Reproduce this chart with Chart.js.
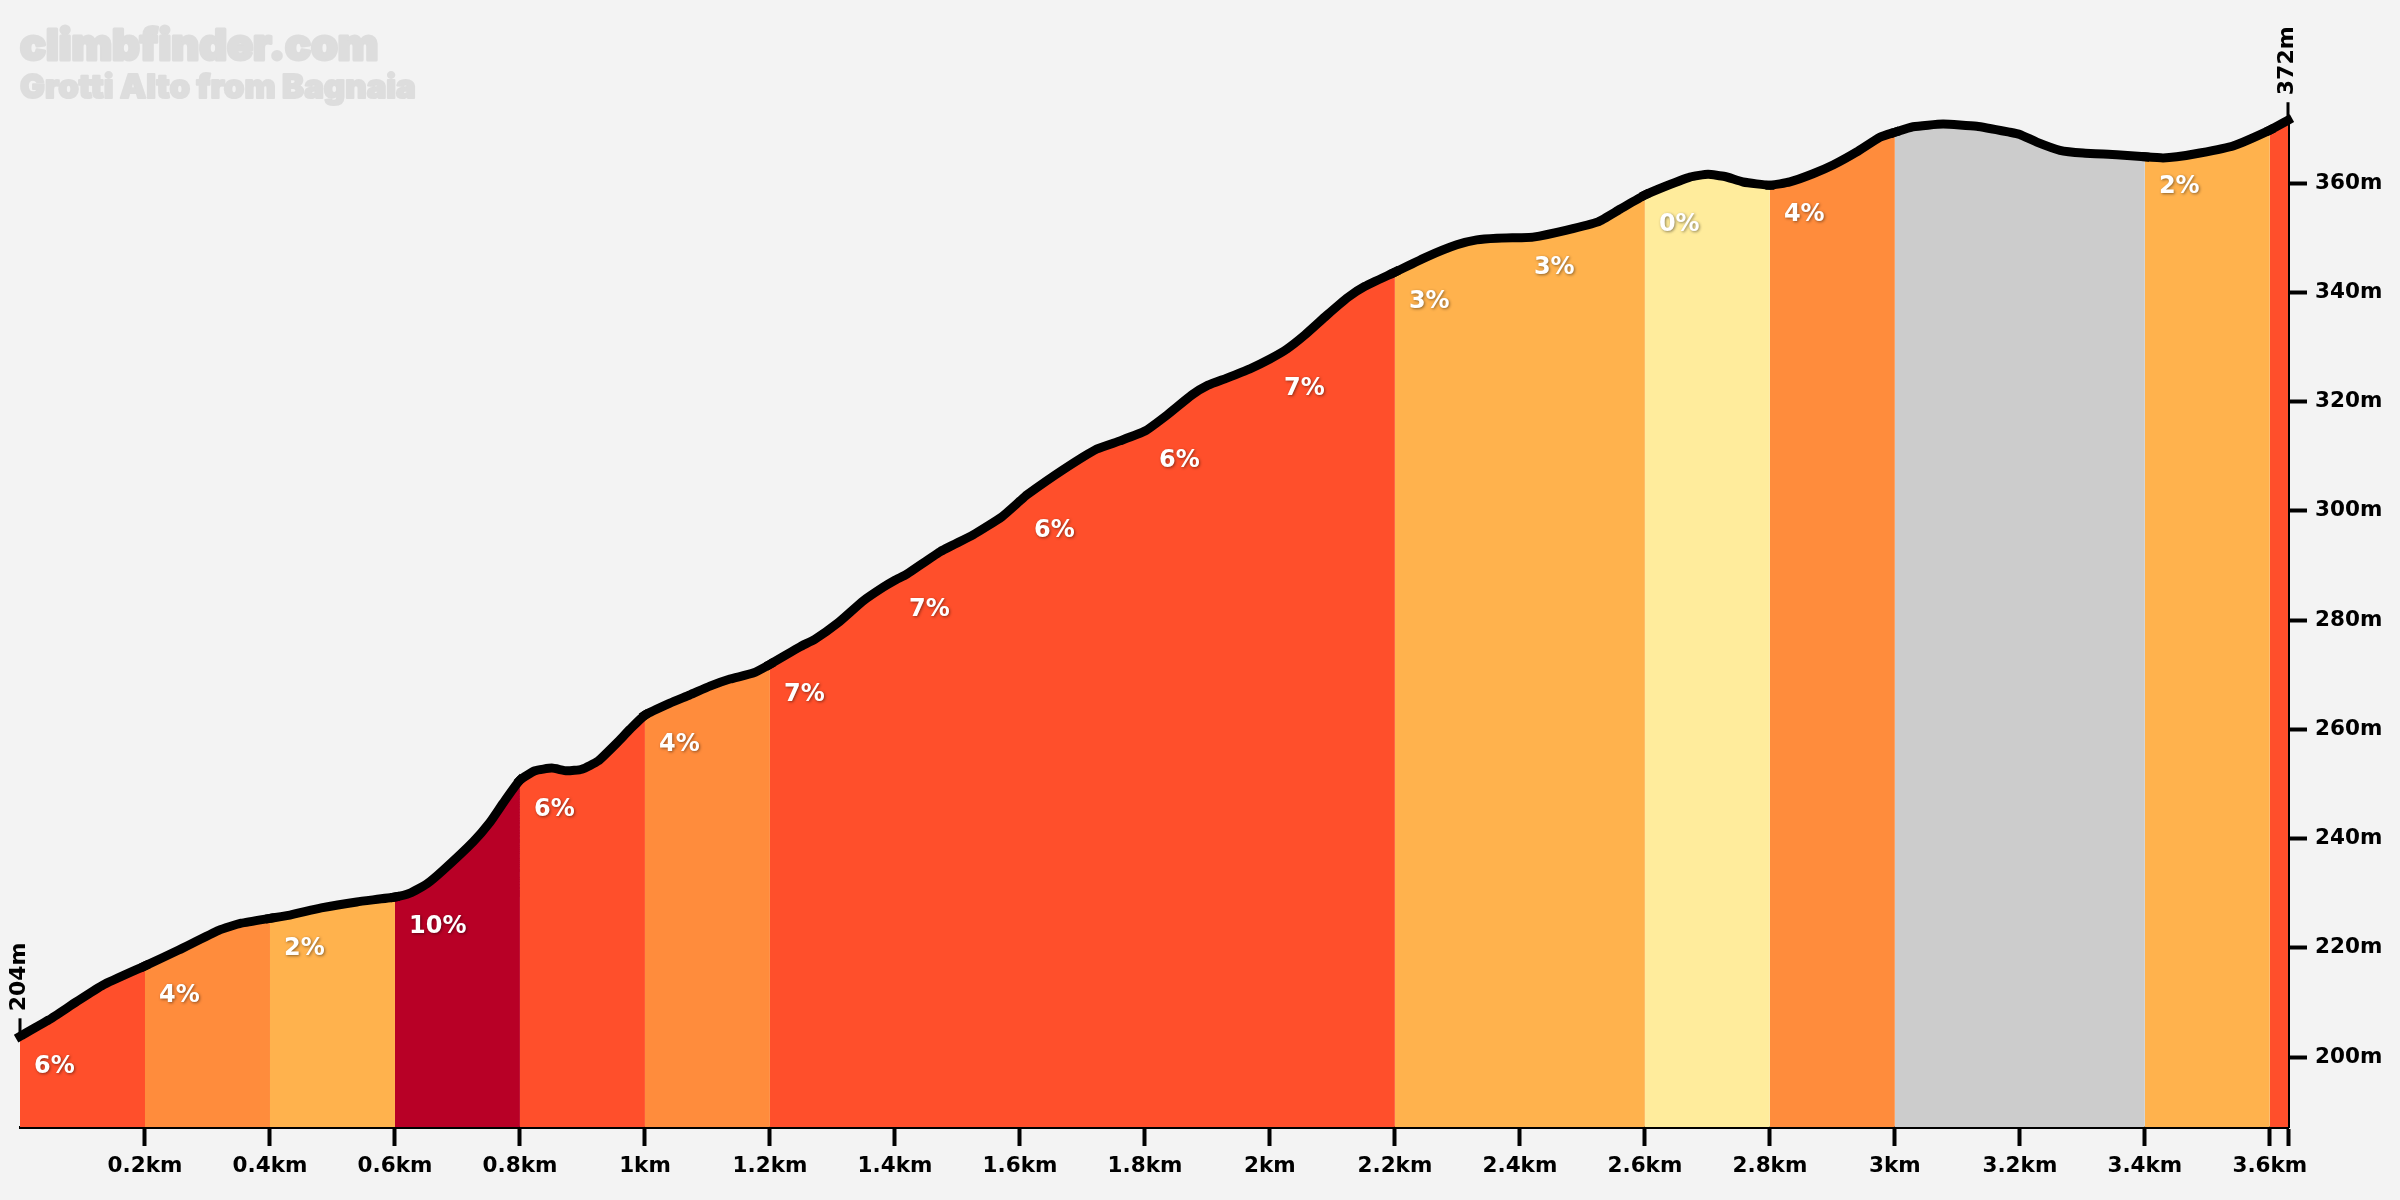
<!DOCTYPE html>
<html>
<head>
<meta charset="utf-8">
<title>Grotti Alto from Bagnaia</title>
<script src="https://cdn.jsdelivr.net/npm/chart.js@4"></script>
<style>
  html, body { margin: 0; padding: 0; background: #f3f3f3; }
  canvas { display: block; }
</style>
</head>
<body>
<canvas id="profileChart" width="2400" height="1200"></canvas>
<script>
var siteName = 'climbfinder.com';
var climbName = 'Grotti Alto from Bagnaia';

// distance (km) and elevation (m)
var distances = [0, .046, .09, .133, .2, .254, .318, .354, .4, .432, .482, .539, .6, .624, .651, .677, .725, .752, .773, .8,
  .824, .851, .875, .899, .925, .955, .976, 1, 1.04, 1.072, 1.104, 1.136, 1.173, 1.2, 1.248, 1.272, 1.309, 1.349, 1.381, 1.4,
  1.419, 1.472, 1.525, 1.571, 1.6, 1.611, 1.669, 1.723, 1.76, 1.8, 1.835, 1.875, 1.901, 1.931, 1.968, 2, 2.027, 2.056, 2.091, 2.125,
  2.152, 2.2, 2.251, 2.299, 2.331, 2.363, 2.4, 2.421, 2.475, 2.525, 2.56, 2.6, 2.635, 2.672, 2.701, 2.728, 2.757, 2.8, 2.832, 2.869,
  2.901, 2.939, 2.976, 3, 3.029, 3.077, 3.131, 3.184, 3.2, 3.227, 3.264, 3.301, 3.355, 3.4, 3.429, 3.451, 3.488, 3.541, 3.6, 3.629];
var elevations = [203.8, 206.8, 210.1, 213.2, 216.7, 219.6, 223.2, 224.5, 225.4, 226, 227.3, 228.4, 229.3, 230, 231.7, 234.2, 239.4, 243, 246.5, 250.7,
  252.4, 252.9, 252.4, 252.7, 254.2, 257.5, 260, 262.6, 264.8, 266.3, 267.9, 269.2, 270.3, 271.9, 275.1, 276.5, 279.5, 283.5, 286, 287.3,
  288.4, 292.5, 295.6, 298.9, 301.8, 302.9, 307.5, 311.3, 312.8, 314.6, 317.5, 321.2, 323, 324.3, 326, 327.8, 329.6, 332.2, 335.8, 339.1,
  341.1, 343.7, 346.5, 348.7, 349.6, 349.9, 350, 350.1, 351.4, 352.9, 355.2, 357.8, 359.5, 361.1, 361.6, 361.2, 360.2, 359.6, 360.2, 361.7,
  363.3, 365.7, 368.4, 369.3, 370.3, 370.8, 370.4, 369.3, 368.9, 367.5, 366, 365.5, 365.2, 364.8, 364.6, 364.8, 365.5, 366.8, 369.7, 371.5];

// gradient bins along the climb, null is the flat/downhill grey part
var binStarts = [0, .2, .4, .6, .8, 1, 1.2, 1.4, 1.6, 1.8, 2, 2.2, 2.4, 2.6, 2.8, 3, 3.2, 3.4, 3.6];
var binGrades = [6, 4, 2, 10, 6, 4, 7, 7, 6, 6, 7, 3, 3, 0, 4, null, null, 2, 7];

var xTickValues = [.2, .4, .6, .8, 1, 1.2, 1.4, 1.6, 1.8, 2, 2.2, 2.4, 2.6, 2.8, 3, 3.2, 3.4, 3.6, 3.629];
var yTickValues = [200, 220, 240, 260, 280, 300, 320, 340, 360];
var lastDistance = distances[distances.length - 1];

function gradeColor(g) {
  if (g === null) return '#cccccc';
  if (g >= 9) return '#b80026';
  if (g >= 5) return '#ff4f2b';
  if (g >= 4) return '#ff8c3c';
  if (g >= 1) return '#ffb24d';
  return '#ffec9c';
}

function binIndex(km) {
  var i = binStarts.length - 1;
  while (i > 0 && binStarts[i] > km + 1e-6) i--;
  return i;
}

// title, grade labels and the start/finish markers
var overlay = {
  id: 'overlay',
  afterDatasetsDraw: function (chart) {
    var ctx = chart.ctx;
    var x = chart.scales.x;
    var y = chart.scales.y;
    ctx.save();

    ctx.fillStyle = '#dddddd';
    ctx.strokeStyle = '#dddddd';
    ctx.lineJoin = 'round';
    ctx.textBaseline = 'alphabetic';
    ctx.textAlign = 'left';
    ctx.font = '900 43px Inter';
    ctx.lineWidth = 3;
    ctx.strokeText(siteName, 20, 60);
    ctx.fillText(siteName, 20, 60);
    ctx.font = '900 33px Inter';
    ctx.lineWidth = 2;
    ctx.strokeText(climbName, 20, 98);
    ctx.fillText(climbName, 20, 98);

    ctx.font = 'bold 24px "DejaVu Sans"';
    ctx.fillStyle = '#ffffff';
    ctx.textBaseline = 'middle';
    ctx.shadowColor = 'rgba(0,0,0,0.45)';
    ctx.shadowBlur = 3;
    ctx.shadowOffsetX = 1;
    ctx.shadowOffsetY = 1;
    binStarts.forEach(function (start, i) {
      var grade = binGrades[i];
      if (grade === null || i === binStarts.length - 1) return;
      var top = elevations[distances.indexOf(start)];
      ctx.fillText(grade + '%', x.getPixelForValue(start) + 14, y.getPixelForValue(top) + 30);
    });
    ctx.shadowColor = 'transparent';

    ctx.fillStyle = '#000000';
    ctx.strokeStyle = '#000000';
    ctx.lineWidth = 3;
    ctx.font = 'bold 22px "DejaVu Sans"';
    [0, distances.length - 1].forEach(function (i) {
      var px = x.getPixelForValue(distances[i]);
      var py = y.getPixelForValue(elevations[i]);
      ctx.beginPath();
      ctx.moveTo(px, py - 2);
      ctx.lineTo(px, py - 18);
      ctx.stroke();
      ctx.save();
      ctx.translate(px - 1, py - 25);
      ctx.rotate(-Math.PI / 2);
      ctx.textAlign = 'left';
      ctx.textBaseline = 'middle';
      ctx.fillText(Math.round(elevations[i]) + 'm', 0, 0);
      ctx.restore();
    });
    ctx.restore();
  }
};

var tickFont = { family: '"DejaVu Sans"', size: 21.5, weight: 'bold' };

var ctx = document.getElementById('profileChart').getContext('2d');
var profileChart = new Chart(ctx, {
  type: 'line',
  data: {
    labels: distances,
    datasets: [{
      data: elevations,
      borderColor: '#000000',
      borderWidth: 9,
      borderCapStyle: 'square',
      borderJoinStyle: 'round',
      backgroundColor: '#ff4f2b',
      fill: 'start',
      tension: 0.15,
      pointRadius: 0,
      clip: false,
      segment: {
        backgroundColor: function (c) {
          return gradeColor(binGrades[binIndex(c.p0.parsed.x)]);
        }
      }
    }]
  },
  options: {
    responsive: false,
    animation: false,
    layout: { padding: { left: 20, top: 117.5, right: 0, bottom: 0 } },
    plugins: {
      legend: { display: false },
      tooltip: { enabled: false }
    },
    scales: {
      x: {
        type: 'linear',
        min: 0,
        max: lastDistance,
        afterBuildTicks: function (scale) {
          scale.ticks = xTickValues.map(function (v) { return { value: v }; });
        },
        afterFit: function (scale) { scale.height = 73; },
        border: { color: '#000000', width: 3 },
        grid: { drawOnChartArea: false, color: '#000000', tickLength: 19, tickWidth: 4 },
        ticks: {
          autoSkip: false,
          maxRotation: 0,
          color: '#000000',
          font: tickFont,
          padding: 8,
          callback: function (v) { return v === lastDistance ? '' : v + 'km'; }
        }
      },
      y: {
        position: 'right',
        min: 187.2,
        max: 372,
        afterBuildTicks: function (scale) {
          scale.ticks = yTickValues.map(function (v) { return { value: v }; });
        },
        afterFit: function (scale) { scale.width = 112; },
        border: { color: '#000000', width: 3 },
        grid: { drawOnChartArea: false, color: '#000000', tickLength: 19, tickWidth: 4 },
        ticks: {
          color: '#000000',
          font: tickFont,
          padding: 8,
          callback: function (v) { return v + 'm'; }
        }
      }
    }
  },
  plugins: [overlay]
});
</script>
</body>
</html>
